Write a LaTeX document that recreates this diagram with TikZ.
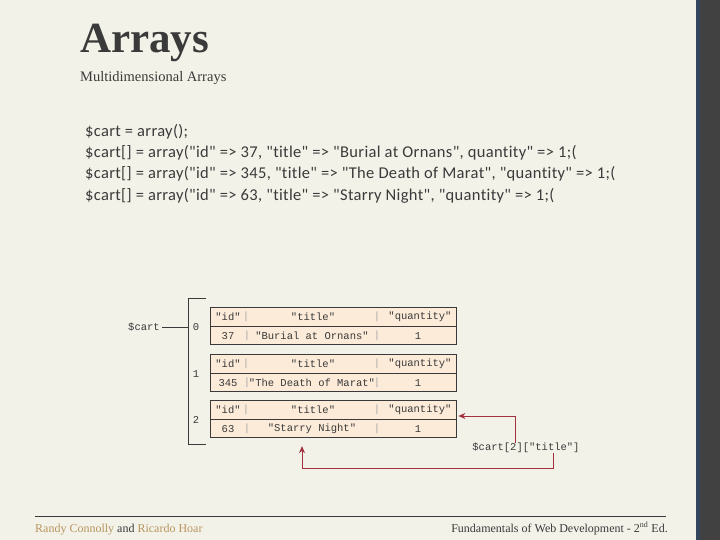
\documentclass[tikz,border=0pt]{standalone}
\usepackage{fontspec}
\setmainfont{Liberation Serif}
\newfontfamily\codefont{Carlito}[LetterSpace=2, Ligatures=NoCommon]
\newfontfamily\pixfont{Liberation Mono}
\usetikzlibrary{arrows.meta}

\definecolor{paper}{HTML}{F3F2E9}
\definecolor{ink}{HTML}{3A3A3A}
\definecolor{peach}{HTML}{FCEBD8}
\definecolor{arrowred}{HTML}{A3303F}
\definecolor{tan}{HTML}{B8955E}
\definecolor{band}{HTML}{414141}
\definecolor{bandblue}{HTML}{34465E}
\definecolor{sepgray}{HTML}{A8A8A8}

\tikzset{
  rowbox/.style={draw=ink, fill=peach, line width=0.8pt, inner sep=0pt,
    minimum width=246pt, minimum height=18.5pt},
  cell/.style={font=\pixfont\fontsize{10.5}{12}\selectfont, text=ink, inner sep=0pt},
  sepbar/.style={cell, text=sepgray},
  codeline/.style={font=\codefont\fontsize{16.5}{19}\selectfont, text=ink,
    anchor=base west, inner sep=0pt},
  pointer/.style={draw=arrowred, line width=0.9pt, -{Stealth[length=7pt,width=6pt]}},
}

\begin{document}
\begin{tikzpicture}[x=1pt, y=-1pt]
    % page
    \useasboundingbox (0,0) rectangle (720,540);
    \fill[paper] (0,0) rectangle (720,540);
    \fill[band] (696,0) rectangle (720,540);
    \fill[bandblue] (696,0) rectangle (699.5,540);

    % heading
    \node[anchor=base west, inner sep=0pt, text=ink,
          font=\bfseries\fontsize{43}{48}\selectfont] (title) at (80,53) {Arrays};
    \node[anchor=base west, inner sep=0pt, text=ink,
          font=\fontsize{14.5}{17}\selectfont] (subtitle) at (80,82) {Multidimensional Arrays};

    % code
    \node[codeline] (code0) at (85,137) {\$cart = array();};
    \node[codeline] (code1) at (85,158) {\$cart[] = array("id" => 37, "title" => "Burial at Ornans", quantity" => 1;(};
    \node[codeline] (code2) at (85,179) {\$cart[] = array("id" => 345, "title" => "The Death of Marat", "quantity" => 1;(};
    \node[codeline] (code3) at (85,201) {\$cart[] = array("id" => 63, "title" => "Starry Night", "quantity" => 1;(};

    % outer array
    \draw[ink, line width=0.9pt] (206,298) -- (188,298) -- (188,444) -- (206,444);
    \node[cell, inner sep=2pt] (cartlbl) at (144,327) {\$cart};
    \coordinate (brk) at (188,327);
    \draw[ink, line width=0.9pt] (cartlbl) -- (brk);

    % inner arrays
    \foreach \i/\y/\id/\name in {0/308/37/{"Burial at Ornans"},
                                 1/355/345/{"The Death of Marat"},
                                 2/401/63/{"Starry Night"}} {
        \node[rowbox] (h\i) at (333,\y+9) {};
        \node[rowbox] (d\i) at (333,\y+27.5) {};
        \node[cell] at (196,\y+19) {\i};
        % keys
        \node[cell] at (228,\y+9) {"id"};
        \node[sepbar] at (246,\y+9) {|};
        \node[cell] at (313,\y+9) {"title"};
        \node[sepbar] at (377,\y+9) {|};
        \node[cell] at (420,\y+9) {"quantity"};
        % values
        \node[cell] at (228,\y+28) {\id};
        \node[sepbar] at (247,\y+28) {|};
        \node[cell] at (312,\y+28) {\name};
        \node[sepbar] at (377,\y+28) {|};
        \node[cell] at (418,\y+28) {1};
    }

    % access expression
    \node[cell] (ptr) at (526,448) {\$cart[2]["title"]};
    \draw[pointer] ([xshift=-10.5pt]ptr.north) |- ([xshift=2pt,yshift=-6pt]h2.east);
    \draw[pointer] ([xshift=27pt]ptr.south) -- ++(0,15) -| ([xshift=-31pt,yshift=-8pt]d2.south);

    % footer
    \draw[ink, line width=0.8pt] (35,516) -- (666,516);
    \node[anchor=base west, inner sep=0pt, text=ink, font=\fontsize{12}{14}\selectfont]
        (authors) at (35,532) {\textcolor{tan}{Randy Connolly} and \textcolor{tan}{Ricardo Hoar}};
    \node[anchor=base east, inner sep=0pt, text=ink, font=\fontsize{12}{14}\selectfont]
        (book) at (668,532) {Fundamentals of Web Development - 2\textsuperscript{nd} Ed.};
\end{tikzpicture}
\end{document}
